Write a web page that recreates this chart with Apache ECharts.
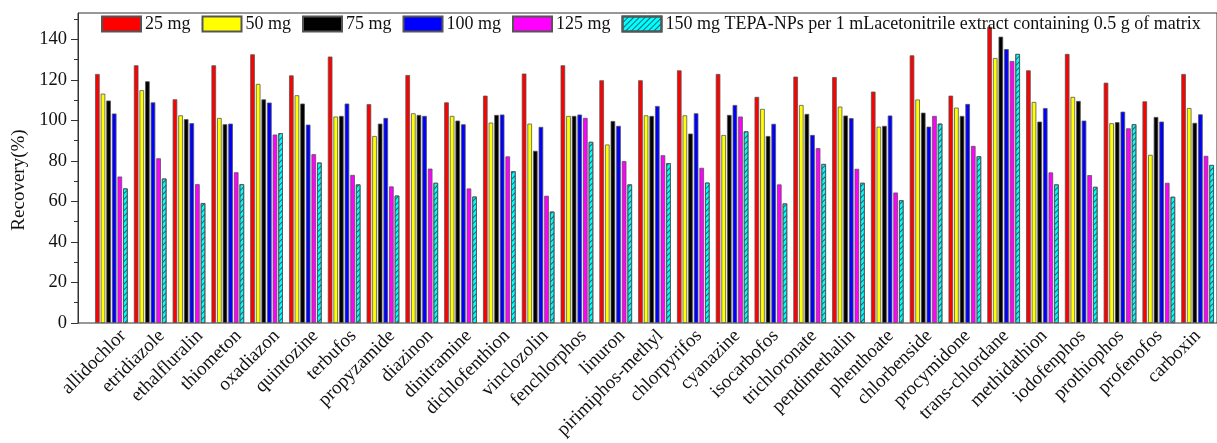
<!DOCTYPE html>
<html>
<head>
<meta charset="utf-8">
<style>
  html, body { margin: 0; padding: 0; background: #fff; }
  #chart { width: 1217px; height: 443px; }
</style>
<script src="https://cdn.jsdelivr.net/npm/echarts@6/dist/echarts.min.js"></script>
</head>
<body>
<div id="chart"></div>
<script>
// Pesticide recoveries for different amounts of TEPA-NPs sorbent
const categories = ['allidochlor', 'etridiazole', 'ethalfluralin', 'thiometon', 'oxadiazon', 'quintozine',
  'terbufos', 'propyzamide', 'diazinon', 'dinitramine', 'dichlofenthion', 'vinclozolin', 'fenchlorphos',
  'linuron', 'pirimiphos-methyl', 'chlorpyrifos', 'cyanazine', 'isocarbofos', 'trichloronate',
  'pendimethalin', 'phenthoate', 'chlorbenside', 'procymidone', 'trans-chlordane', 'methidathion',
  'iodofenphos', 'prothiophos', 'profenofos', 'carboxin'];

const seriesNames = ['25 mg', '50 mg', '75 mg', '100 mg', '125 mg',
  '150 mg TEPA-NPs per 1 mLacetonitrile extract containing 0.5 g of matrix'];

const mg25 = [122.9, 127.2, 110.4, 127.2, 132.6, 122.2, 131.5, 108.0, 122.4, 108.9, 112.2, 123.1, 127.2, 119.8, 119.8, 124.7, 122.9, 111.6, 121.6, 121.4, 114.2, 132.1, 112.2, 146.2, 124.7, 132.8, 118.6, 109.4, 122.9];
const mg50 = [113.2, 114.9, 102.5, 101.2, 118.0, 112.4, 101.9, 92.3, 103.5, 102.2, 98.9, 98.4, 102.2, 88.1, 102.5, 102.5, 92.8, 105.7, 107.6, 106.8, 96.9, 110.3, 106.3, 130.8, 109.1, 111.6, 98.6, 83.0, 106.1];
const mg75 = [109.8, 119.3, 100.6, 98.1, 110.4, 108.3, 102.2, 98.4, 102.7, 99.9, 102.7, 85.0, 102.2, 99.7, 102.2, 93.5, 102.7, 92.3, 103.2, 102.4, 97.3, 103.8, 102.2, 141.3, 99.4, 109.6, 99.1, 101.7, 98.8];
const mg100 = [103.4, 108.9, 98.6, 98.4, 108.8, 97.9, 108.3, 101.2, 102.2, 98.1, 102.9, 96.8, 102.9, 97.3, 107.1, 103.5, 107.6, 98.3, 92.8, 101.1, 102.4, 96.9, 108.1, 135.2, 106.1, 99.9, 104.3, 99.4, 103.0];
const mg125 = [72.3, 81.3, 68.5, 74.4, 93.0, 83.3, 73.1, 67.4, 76.2, 66.4, 82.2, 62.8, 101.2, 79.9, 82.8, 76.6, 101.9, 68.4, 86.3, 76.1, 64.4, 102.2, 87.4, 129.3, 74.3, 73.0, 96.1, 69.2, 82.5];
const mg150 = [66.4, 71.3, 59.2, 68.5, 93.7, 79.2, 68.4, 62.9, 69.2, 62.4, 74.9, 55.0, 89.4, 68.4, 78.9, 69.3, 94.6, 59.0, 78.5, 69.2, 60.6, 98.4, 82.3, 132.8, 68.4, 67.2, 98.1, 62.3, 78.0];

const yMajorTicks = [0, 20, 40, 60, 80, 100, 120, 140];
const yMinorTicks = [10, 30, 50, 70, 90, 110, 130, 150];
const yMax = 153;

const FONT = '"Liberation Serif", "Times New Roman", serif';
const colors = ['#ff0000', '#ffff00', '#000000', '#0000ff', '#ff00ff', '#00ffff'];
const values = [mg25, mg50, mg75, mg100, mg125, mg150];

const chart = echarts.init(document.getElementById('chart'), null, { renderer: 'canvas' });

// grid 0: frame + y axis; grid 1: bars; grid 2: category labels
const series = values.map((v, i) => ({
  name: seriesNames[i],
  type: 'bar',
  xAxisIndex: 1,
  yAxisIndex: 2,
  data: v,
  barWidth: 4.6,
  barGap: '22%',
  itemStyle: Object.assign({
    color: colors[i],
    borderColor: '#555',
    borderWidth: 0.8
  }, i === 5 ? {
    // "/" hatching on the 150 mg bars
    decal: {
      symbol: 'rect',
      symbolSize: 1,
      color: 'rgba(20,90,100,0.9)',
      dashArrayX: [1, 0],
      dashArrayY: [1, 3],
      rotation: -Math.PI / 4
    }
  } : {}),
  emphasis: { disabled: true },
  animation: false
}));

chart.setOption({
  animation: false,
  legend: {
    data: seriesNames,
    left: 101,
    top: 15,
    width: 1200,
    padding: 0,
    itemWidth: 39,
    itemHeight: 15,
    itemGap: 11,
    icon: 'rect',
    textStyle: { fontFamily: FONT, fontSize: 18, color: '#111', padding: [0, 0, 0, -1] }
  },
  grid: [
    { left: 78, right: -24, top: 13, bottom: 120, show: true, borderColor: '#333', borderWidth: 1, backgroundColor: 'transparent' },
    { left: 92, right: -10, top: 13, bottom: 120 },
    { left: 104, right: -22, top: 13, bottom: 120 }
  ],
  xAxis: [
    { type: 'value', gridIndex: 0, show: false, min: 0, max: 1 },
    {
      type: 'category', gridIndex: 1, data: categories,
      axisLine: { show: false }, axisTick: { show: false }, axisLabel: { show: false }
    },
    {
      type: 'category', gridIndex: 2, data: categories,
      axisLine: { show: false }, axisTick: { show: false },
      axisLabel: { rotate: 45, interval: 0, margin: 10, fontFamily: FONT, fontSize: 19, color: '#111' }
    }
  ],
  yAxis: [
    {
      type: 'value', gridIndex: 0, min: 0, max: yMax,
      name: 'Recovery(%)', nameLocation: 'middle', nameGap: 48,
      nameTextStyle: { fontFamily: FONT, fontSize: 19, color: '#111', padding: [0, 24, 0, 0] },
      axisLine: { show: true, lineStyle: { color: '#333', width: 1 } },
      axisTick: { show: true, inside: false, length: 7, customValues: yMajorTicks, lineStyle: { color: '#333' } },
      axisLabel: { customValues: yMajorTicks, margin: 11, fontFamily: FONT, fontSize: 18.5, color: '#111' },
      splitLine: { show: false }
    },
    {
      type: 'value', gridIndex: 0, min: 0, max: yMax, position: 'left',
      axisLine: { show: false },
      axisTick: { show: true, inside: false, length: 4, customValues: yMinorTicks, lineStyle: { color: '#333' } },
      axisLabel: { show: false },
      splitLine: { show: false }
    },
    { type: 'value', gridIndex: 1, min: 0, max: yMax, show: false },
    { type: 'value', gridIndex: 2, min: 0, max: yMax, show: false }
  ],
  series: series
});
</script>
</body>
</html>
